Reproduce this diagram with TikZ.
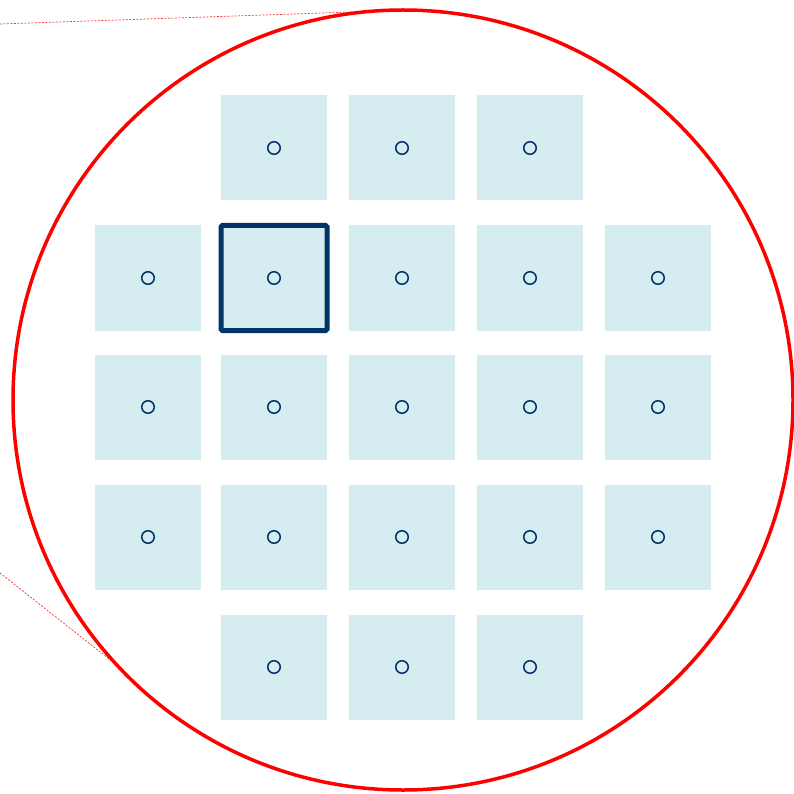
\documentclass[tikz,border=0pt]{standalone}
\begin{document}
\begin{tikzpicture}[x=1pt,y=-1pt,
  cell/.style={fill=cellfill,draw=none,minimum width=106pt,minimum height=105pt,inner sep=0pt,outer sep=0pt},
  dot/.style={circle,draw=navy,line width=1.5pt,minimum size=12.5pt,inner sep=0pt},
  wafer/.style={draw=red,line width=3.5pt},
  zoomline/.style={draw=red!80,line width=0.7pt,dash pattern=on 2pt off 1.5pt}]
\definecolor{cellfill}{HTML}{D5ECF0}
\definecolor{navy}{HTML}{003366}
\useasboundingbox (0,0) rectangle (794,794);
\coordinate (z1) at (0,24);
\coordinate (z1e) at (352,12);
\coordinate (z2) at (0,573);
\coordinate (z2e) at (118,666);
\draw[zoomline] (z1) -- (z1e);
\draw[zoomline] (z2) -- (z2e);
\node[wafer,circle,minimum size=780pt,inner sep=0pt] (w) at (403,400) {};
% cells
\foreach \r/\y in {0/148,1/278,2/407,3/537,4/667}{
  \foreach \c/\x in {0/148,1/274,2/402,3/530,4/658}{
    \pgfmathtruncatemacro{\show}{(\r==0 || \r==4) ? ((\c>0 && \c<4) ? 1 : 0) : 1}
    \ifnum\show=1
      \node[cell] (c\r\c) at (\x,\y) {};
      \node[dot] (d\r\c) at (\x,\y) {};
    \fi
  }
}
\draw[navy,line width=5pt,rounded corners=1.5pt] (c11.north west) rectangle (c11.south east);
\end{tikzpicture}
\end{document}
